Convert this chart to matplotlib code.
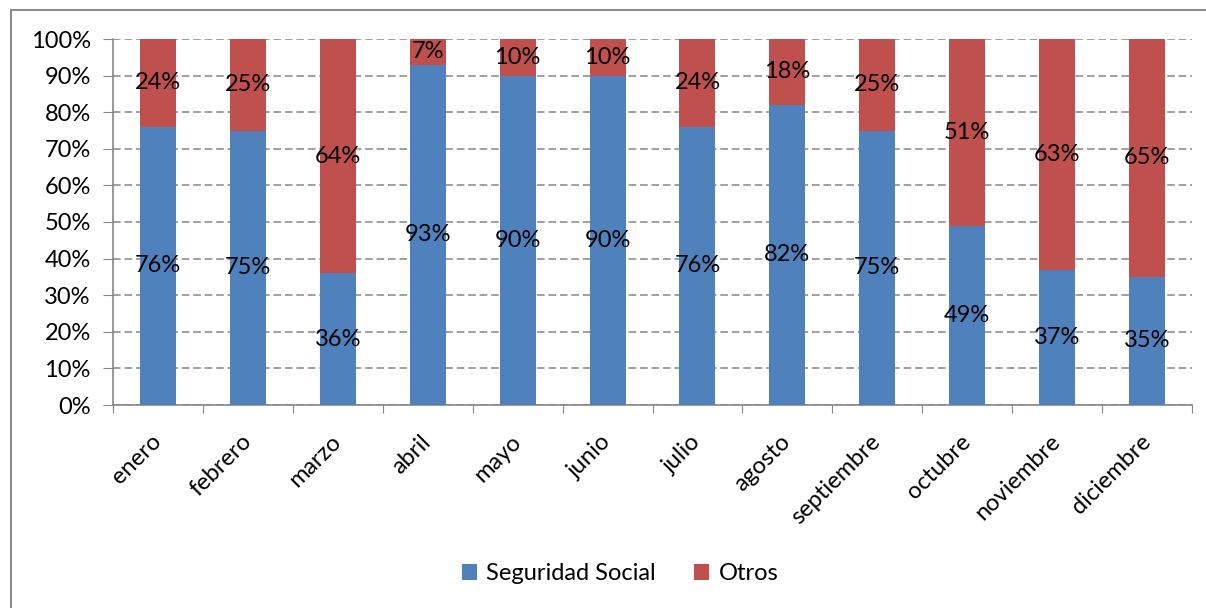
import matplotlib.pyplot as plt
from matplotlib.patches import Rectangle
import numpy as np

plt.rcParams['font.family'] = ['Lato', 'DejaVu Sans']

meses = ['enero', 'febrero', 'marzo', 'abril', 'mayo', 'junio', 'julio',
         'agosto', 'septiembre', 'octubre', 'noviembre', 'diciembre']
seguridad = [76, 75, 36, 93, 90, 90, 76, 82, 75, 49, 37, 35]
otros = [24, 25, 64, 7, 10, 10, 24, 18, 25, 51, 63, 65]

W, H = 1206, 608
fig = plt.figure(figsize=(W / 100, H / 100), dpi=100)
ax = fig.add_axes([113 / W, 1 - 405 / H, (1192 - 113) / W, (405 - 39) / H])

# outer chart border
fig.patches.append(Rectangle((11 / W, -0.01), 1.2, 1 - 10 / H + 0.01, transform=fig.transFigure,
                             fill=False, edgecolor='#8c8c8c', linewidth=1.5))

fs = 17
x = np.arange(len(meses))
w = 0.4
ax.bar(x, seguridad, w, color='#4F81BD', label='Seguridad Social', zorder=3)
ax.bar(x, otros, w, bottom=seguridad, color='#C0504D', label='Otros', zorder=3)

for i in range(len(meses)):
    ax.text(x[i], seguridad[i] / 2, f'{seguridad[i]}%', ha='center', va='center',
            fontsize=fs, zorder=4)
    ax.text(x[i], seguridad[i] + otros[i] / 2, f'{otros[i]}%', ha='center', va='center',
            fontsize=fs, zorder=4)

ax.set_xlim(-0.5, len(meses) - 0.5)
ax.set_ylim(0, 100)
ax.set_yticks(range(0, 101, 10))
ax.set_yticklabels([f'{v}%' for v in range(0, 101, 10)], fontsize=fs)
ax.yaxis.grid(True, linestyle=(0, (5, 2.5)), color='#868686', linewidth=1.1, zorder=0)
ax.tick_params(axis='y', length=7, color='#868686', pad=9)

ax.set_xticks(np.arange(-0.5, len(meses), 1))
ax.set_xticklabels([])
ax.set_xticks(x, minor=True)
ax.set_xticklabels(meses, minor=True, rotation=45, ha='right', va='center',
                   rotation_mode='anchor', fontsize=fs)
ax.tick_params(axis='x', which='major', length=6, color='#868686')
ax.tick_params(axis='x', which='minor', length=0, pad=24)

for s in ['top', 'right']:
    ax.spines[s].set_visible(False)
for s in ['left', 'bottom']:
    ax.spines[s].set_color('#868686')
    ax.spines[s].set_linewidth(1.2)

fig.legend(loc='center', bbox_to_anchor=(620 / W, 1 - 574 / H), ncol=2, frameon=False,
           fontsize=fs, handlelength=0.65, handleheight=0.65, columnspacing=1.6, handletextpad=0.4)

fig.savefig('out.png', dpi=100)
